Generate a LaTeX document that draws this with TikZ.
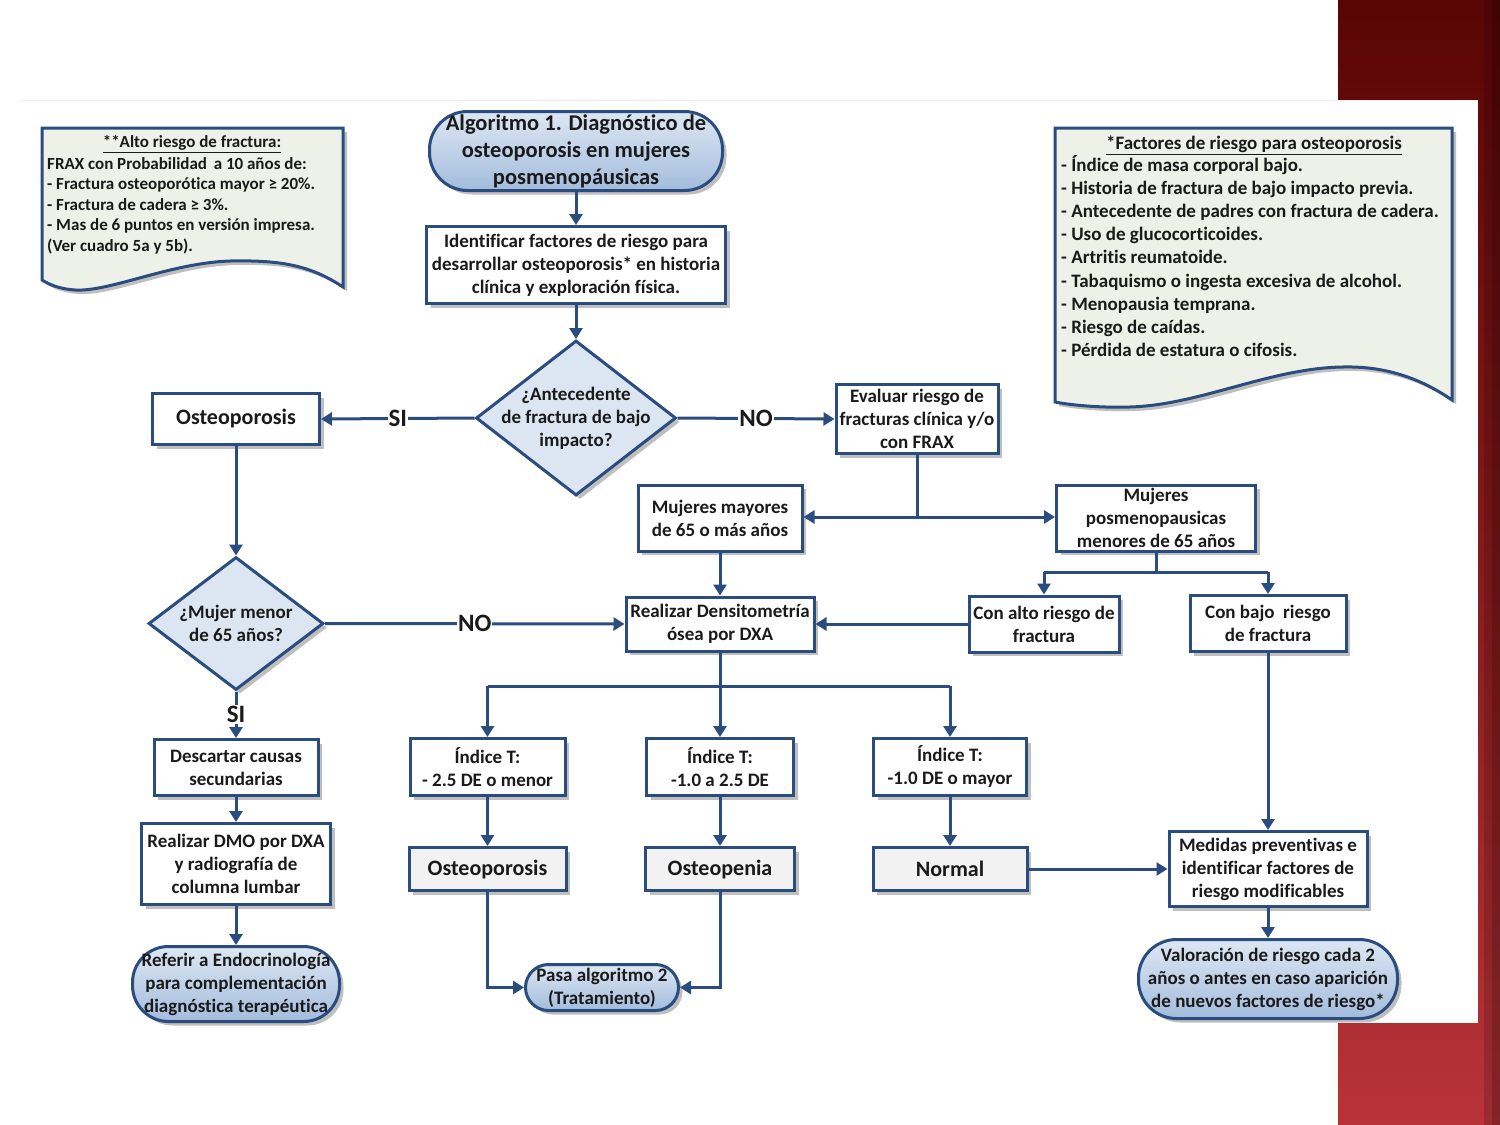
\documentclass[tikz,border=0pt]{standalone}
\usepackage{fontspec}
\setmainfont{Carlito}[Ligatures=NoCommon]
\usetikzlibrary{arrows.meta,shapes.geometric,shadows,calc}
\definecolor{ln}{HTML}{2B4C7E}
\definecolor{txt}{HTML}{1A1A1A}
\definecolor{dfill}{HTML}{DCE6F2}
\definecolor{stop}{HTML}{DDE7F3}
\definecolor{sbot}{HTML}{A3BCDC}
\definecolor{notef}{HTML}{EEF1E7}
\definecolor{resf}{HTML}{F2F2F2}
\definecolor{rtop}{HTML}{5A0505}
\definecolor{rmid}{HTML}{871A1D}
\definecolor{rbot}{HTML}{B83339}
\newcommand\fsm{\bfseries\fontsize{19}{23}\selectfont}
\newcommand\fbg{\bfseries\fontsize{22}{25}\selectfont}
\newcommand\flb{\bfseries\fontsize{25}{25}\selectfont}
\newcommand\fti{\bfseries\fontsize{22.5}{27}\selectfont}
\newcommand\fnl{\bfseries\fontsize{17}{20.5}\selectfont}
\newcommand\fnr{\bfseries\fontsize{19}{23}\selectfont}
\tikzset{
  shd/.style={drop shadow={shadow xshift=4pt,shadow yshift=-4pt,fill=black!55,opacity=0.45}},
  box/.style={shd, draw=ln, line width=3pt, fill=white, align=center, text=txt, inner sep=1pt, font=\fsm},
  res/.style={box, fill=resf, font=\fbg},
  stad/.style={shd, draw=ln, line width=3pt, top color=stop, bottom color=sbot, rounded corners=#1, align=center, text=txt, inner sep=0pt, font=\fsm},
  dia/.style={shd, draw=ln, line width=3pt, fill=dfill, diamond, inner sep=0pt},
  arr/.style={draw=ln, line width=3pt, -{Triangle[width=13pt,length=11pt]}},
  con/.style={draw=ln, line width=3pt},
  lbl/.style={fill=white, inner sep=1pt, text=txt, font=\flb},
  plain/.style={text=txt, inner sep=0pt, font=\fsm},
  notebox/.style={shd, draw=ln, line width=3pt, fill=notef},
}
\begin{document}
\begin{tikzpicture}[x=1pt,y=-1pt]
\useasboundingbox (0,0) rectangle (1500,1125);
% slide background
\fill[white] (0,0) rectangle (1500,1125);
\shade[top color=rtop, bottom color=rbot, middle color=rmid] (1338,0) rectangle (1500,1125);
\fill[black,opacity=0.15] (1484,0) rectangle (1500,1125);
\fill[black,opacity=0.15] (1492,0) rectangle (1500,1125);
% diagram area
\fill[white] (20,100) rectangle (1478,1023);
\draw[black!7, line width=1pt] (20,100) -- (1478,100);

% notes
\path[notebox] (42,128) -- (343,128) -- (343,287)
  .. controls (310,265) and (280,260) .. (230,261)
  .. controls (170,263) and (110,292) .. (75,290)
  .. controls (60,289) and (50,285) .. (42,280) -- cycle;
\node[text=txt, inner sep=0pt, font=\fnl] (lnt) at (192,144) {\underline{**Alto riesgo de fractura:}};
\foreach \t [count=\i] in {{FRAX con Probabilidad\, a 10 años de:},{- Fractura osteoporótica mayor ≥ 20\%.},{- Fractura de cadera ≥ 3\%.},{- Mas de 6 puntos en versión impresa.},{(Ver cuadro 5a y 5b).}}
  \node[text=txt, inner sep=0pt, font=\fnl, anchor=west, text height=12pt, text depth=4pt] (ln\i) at (47,{165+20.5*(\i-1)}) {\t};

\path[notebox] (1055,128) -- (1452,128) -- (1452,400)
  .. controls (1420,378) and (1385,366) .. (1343,367)
  .. controls (1270,368) and (1200,405) .. (1130,407)
  .. controls (1100,408) and (1070,405) .. (1055,402) -- cycle;
\node[text=txt, inner sep=0pt, font=\fnr] (rnt) at (1254,145) {\underline{*Factores de riesgo para osteoporosis}};
\foreach \t [count=\i] in {{- Índice de masa corporal bajo.},{- Historia de fractura de bajo impacto previa.},{- Antecedente de padres con fractura de cadera.},{- Uso de glucocorticoides.},{- Artritis reumatoide.},{- Tabaquismo o ingesta excesiva de alcohol.},{- Menopausia temprana.},{- Riesgo de caídas.},{- Pérdida de estatura o cifosis.}}
  \node[text=txt, inner sep=0pt, font=\fnr, anchor=west, text height=13pt, text depth=4pt] (rn\i) at (1061,{167+23.1*(\i-1)}) {\t};

% nodes
\node[stad=38pt, font=\fti, minimum width=293pt, minimum height=79pt] (title) at (576,151) {Algoritmo 1. Diagnóstico de\\osteoporosis en mujeres\\posmenopáusicas};
\node[box, minimum width=299pt, minimum height=77pt] (ident) at (576,265) {Identificar factores de riesgo para\\desarrollar osteoporosis* en historia\\clínica y exploración física.};
\node[dia, minimum width=200pt, minimum height=155pt] (d1) at (576,418) {};
\node[plain, align=center] (d1t) at (d1.center) {¿Antecedente\\de fractura de bajo\\impacto?};
\node[box, font=\fbg, minimum width=167pt, minimum height=51pt] (ost1) at (236,419) {Osteoporosis};
\node[box, minimum width=162pt, minimum height=69pt] (eval) at (917,419) {Evaluar riesgo de\\fracturas clínica y/o\\con FRAX};
\node[box, minimum width=164pt, minimum height=66pt] (mmay) at (720,518) {Mujeres mayores\\de 65 o más años};
\node[box, minimum width=199pt, minimum height=66pt] (mpos) at (1156,518) {Mujeres\\posmenopausicas\\menores de 65 años};
\node[dia, minimum width=175pt, minimum height=133pt] (d2) at (236,623.5) {};
\node[plain, align=center] (d2t) at (d2.center) {¿Mujer menor\\de 65 años?};
\node[box, minimum width=188pt, minimum height=54pt] (dens) at (720,624) {Realizar Densitometría\\ósea por DXA};
\node[box, minimum width=150pt, minimum height=56pt] (alto) at (1044,624) {Con alto riesgo de\\fractura};
\node[box, minimum width=156pt, minimum height=56pt] (bajo) at (1268,623.5) {Con bajo\ \ riesgo\\de fractura};
\node[box, minimum width=164pt, minimum height=56pt] (desc) at (236,767.5) {Descartar causas\\secundarias};
\node[box, minimum width=189pt, minimum height=81pt] (dmo) at (236,864) {Realizar DMO por DXA\\y radiografía de\\columna lumbar};
\node[stad=36pt, minimum width=207pt, minimum height=75pt] (refer) at (236,984) {Referir a Endocrinología\\para complementación\\diagnóstica terapéutica};
\node[box, minimum width=155pt, minimum height=57pt] (t1) at (487.5,767) {Índice T:\\- 2.5 DE o menor};
\node[box, minimum width=147pt, minimum height=57pt] (t2) at (720,767) {Índice T:\\-1.0 a 2.5 DE};
\node[box, minimum width=153pt, minimum height=57pt] (t3) at (950,767) {Índice T:\\-1.0 DE o mayor};
\node[res, minimum width=157pt, minimum height=43pt] (r1) at (487.5,869) {Osteoporosis};
\node[res, minimum width=149pt, minimum height=43pt] (r2) at (720,869) {Osteopenia};
\node[res, minimum width=154pt, minimum height=43pt] (r3) at (950,869) {Normal};
\node[box, minimum width=198pt, minimum height=75pt] (med) at (1268,869) {Medidas preventivas e\\identificar factores de\\riesgo modificables};
\node[stad=38pt, minimum width=259pt, minimum height=79pt] (valor) at (1268,979) {Valoración de riesgo cada 2\\años o antes en caso aparición\\de nuevos factores de riesgo*};
\node[stad=23pt, minimum width=153pt, minimum height=46pt] (pasa) at (602,987.5) {Pasa algoritmo 2\\(Tratamiento)};

% connectors
\draw[arr] (title) -- (ident);
\draw[arr] (ident) -- (d1);
\draw[arr] (d1.west) -- node[lbl]{SI} (ost1.east);
\draw[arr] (d1.east) -- node[lbl]{NO} (eval.west);
\coordinate (j1) at (eval.south |- 0,517);
\draw[con] (eval.south) -- (j1);
\draw[arr] (j1) -- (mmay.east |- j1);
\draw[arr] (j1) -- (mpos.west |- j1);
\draw[arr] (ost1) -- (d2);
\draw[arr] (d2.east) -- node[lbl]{NO} (dens.west);
\draw[arr] (d2.south) -- node[lbl]{SI} (desc.north);
\draw[arr] (desc) -- (dmo);
\draw[arr] (dmo) -- (refer);
\draw[arr] (mmay) -- (dens);
\coordinate (j2) at (mpos.south |- 0,572);
\draw[con] (mpos.south) -- (j2);
\draw[con] (alto.north |- j2) -- (bajo.north |- j2);
\draw[arr] (alto.north |- j2) -- (alto.north);
\draw[arr] (bajo.north |- j2) -- (bajo.north);
\draw[arr] (alto.west) -- (alto.west -| dens.east);
\coordinate (j3) at (dens.south |- 0,686);
\draw[con] (dens.south) -- (j3);
\draw[con] (t1.north |- j3) -- (t3.north |- j3);
\draw[arr] (t1.north |- j3) -- (t1.north);
\draw[arr] (j3) -- (t2.north);
\draw[arr] (t3.north |- j3) -- (t3.north);
\draw[arr] (t1) -- (r1);
\draw[arr] (t2) -- (r2);
\draw[arr] (t3) -- (r3);
\draw[arr] (r1.south) |- (pasa.west);
\draw[arr] (r2.south) |- (pasa.east);
\draw[arr] (r3.east) -- (med.west);
\draw[arr] (bajo) -- (med);
\draw[arr] (med) -- (valor);
\end{tikzpicture}
\end{document}
